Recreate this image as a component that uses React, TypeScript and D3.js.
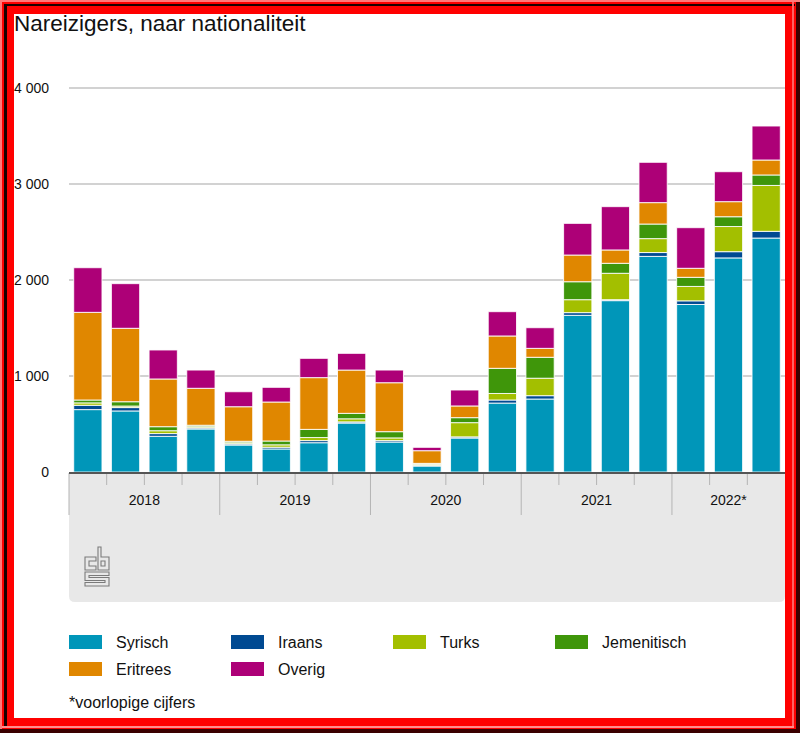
import React from "react";
import * as d3 from "d3";

const quarters = [
  "2018 K1", "2018 K2", "2018 K3", "2018 K4",
  "2019 K1", "2019 K2", "2019 K3", "2019 K4",
  "2020 K1", "2020 K2", "2020 K3", "2020 K4",
  "2021 K1", "2021 K2", "2021 K3", "2021 K4",
  "2022 K1", "2022 K2", "2022 K3",
];
const years = ["2018", "2019", "2020", "2021", "2022*"];
const quartersPerYear = [4, 4, 4, 4, 3];

const syrisch = [650, 636, 372, 448, 281, 240, 305, 510, 312, 62, 354, 718, 760, 1632, 1785, 2246, 1745, 2230, 2437];
const iraans = [45, 35, 28, 12, 12, 18, 22, 12, 15, 8, 12, 32, 35, 28, 10, 40, 38, 65, 70];
const turks = [25, 16, 30, 12, 12, 25, 32, 32, 28, 10, 148, 68, 182, 135, 275, 145, 150, 262, 478];
const jemenitisch = [30, 45, 42, 15, 15, 40, 85, 57, 65, 10, 52, 262, 218, 187, 104, 152, 95, 102, 109];
const eritrees = [913, 765, 497, 385, 360, 406, 539, 451, 510, 132, 122, 337, 93, 278, 139, 223, 94, 157, 156];
const overig = [465, 465, 302, 190, 156, 153, 201, 174, 132, 35, 166, 253, 215, 330, 451, 420, 423, 312, 354];

const seriesNames = ["Syrisch", "Iraans", "Turks", "Jemenitisch", "Eritrees", "Overig"];
const seriesColors = ["#0096b9", "#004a92", "#a3bf00", "#3f960a", "#e08700", "#ad0077"];
const yTicks = [0, 1000, 2000, 3000, 4000];

const W = 800;
const H = 733;

export default function App() {
  const table = quarters.map((q, i) => ({
    q,
    Syrisch: syrisch[i],
    Iraans: iraans[i],
    Turks: turks[i],
    Jemenitisch: jemenitisch[i],
    Eritrees: eritrees[i],
    Overig: overig[i],
  }));
  const stacked = d3.stack<any>().keys(seriesNames)(table);

  const plotLeft = 69;
  const plotRight = 785;
  const x = d3.scaleBand<string>().domain(quarters).range([plotLeft, plotRight]).paddingInner(0.25).paddingOuter(0.125);
  const y = d3.scaleLinear().domain([0, 4000]).range([472, 88]);
  const step = x.step();
  const fmt = (v: number) => (v >= 1000 ? `${Math.floor(v / 1000)} ${String(v % 1000).padStart(3, "0")}` : `${v}`);

  // year boundaries
  const yearStarts: number[] = [];
  let acc = 0;
  quartersPerYear.forEach((n) => {
    yearStarts.push(acc);
    acc += n;
  });

  const axisY = 473;
  const font = "'Liberation Sans', Arial, sans-serif";

  const framePath =
    `M0,0H${W}V${H}H0Z M14,14V718H785V14Z`;

  return (
    <svg width={W} height={H} style={{ position: "absolute", left: 0, top: 0, background: "#fff" }} fontFamily={font}>
      <rect x={0} y={0} width={W} height={H} fill="#fff" />
      <text x={14} y={31} fontSize={22.5} fill="#111">Nareizigers, naar nationaliteit</text>

      {yTicks.map((t) => (
        <g key={t}>
          {t > 0 && <line x1={plotLeft} x2={plotRight} y1={y(t)} y2={y(t)} stroke="#d2d2d2" strokeWidth={2} />}
          <text x={49} y={y(t) + 5} fontSize={14} textAnchor="end" fill="#111">{fmt(t)}</text>
        </g>
      ))}

      {/* axis panel */}
      <path
        d={`M${plotLeft},${axisY} H${plotRight} V${602 - 6} Q${plotRight},602 ${plotRight - 6},602 H${plotLeft + 6} Q${plotLeft},602 ${plotLeft},${602 - 6} Z`}
        fill="#e8e8e8"
      />
      {quarters.map((q, i) => {
        const bx = plotLeft + i * step;
        const isYear = yearStarts.includes(i);
        return (
          <line key={q} x1={bx} x2={bx} y1={axisY} y2={isYear ? 515 : 485} stroke="#b4b4b4" strokeWidth={1} />
        );
      })}
      {years.map((yr, k) => {
        const s = plotLeft + yearStarts[k] * step;
        const e = s + quartersPerYear[k] * step;
        return (
          <text key={yr} x={(s + e) / 2} y={505} fontSize={14} textAnchor="middle" fill="#111">{yr}</text>
        );
      })}

      {/* bars */}
      {stacked.map((layer, si) => (
        <g key={seriesNames[si]} fill={seriesColors[si]}>
          {layer.map((d: any, i: number) => (
            <rect
              key={i}
              x={x(quarters[i])}
              y={y(d[1])}
              width={x.bandwidth()}
              height={Math.max(0, y(d[0]) - y(d[1]))}
              stroke="#fff"
              strokeOpacity={0.85}
              strokeWidth={1}
            />
          ))}
        </g>
      ))}
      <line x1={plotLeft} x2={plotRight} y1={axisY} y2={axisY} stroke="#555" strokeWidth={2} />

      {/* cbs logo */}
      <g fill="none" stroke="#7a7a7a" strokeWidth={1.1}>
        <path d="M96,557 H85 V570 H96 V566 H89 V561 H96 Z" />
        <path d="M98,547 H101 V557 H109 V570 H98 Z" />
        <path d="M101,561 H105 V566 H101 Z" />
        <path d="M85,572 H109 V575.5 H89 V577.5 H109 V586 H85 V582.5 H105 V580.5 H85 Z" />
      </g>

      {/* legend */}
      {seriesNames.map((name, i) => {
        const col = i % 4;
        const row = Math.floor(i / 4);
        const lx = 69 + col * 162;
        const ly = 635 + row * 27;
        return (
          <g key={name}>
            <rect x={lx} y={ly} width={33} height={14} fill={seriesColors[i]} />
            <text x={lx + 47} y={ly + 13} fontSize={16} fill="#111">{name}</text>
          </g>
        );
      })}
      <text x={69} y={708} fontSize={16} fill="#111">*voorlopige cijfers</text>

      {/* frame */}
      <path d={framePath} fill="#ff0000" fillRule="evenodd" />
      <rect x={0} y={0} width={W} height={2} fill="#ff7a7a" />
      <rect x={0} y={0} width={2} height={H} fill="#ff7a7a" />
      <rect x={4} y={4} width={3} height={724} fill="#1a0000" />
      <rect x={4} y={4} width={791} height={2} fill="#1a0000" />
      <rect x={792} y={2} width={2} height={726} fill="#ff6060" />
      <rect x={2} y={726} width={792} height={2} fill="#ff8c8c" />
      <rect x={796} y={2} width={4} height={H} fill="#3a0000" />
      <rect x={0} y={729} width={W} height={4} fill="#3a0000" />
    </svg>
  );
}
